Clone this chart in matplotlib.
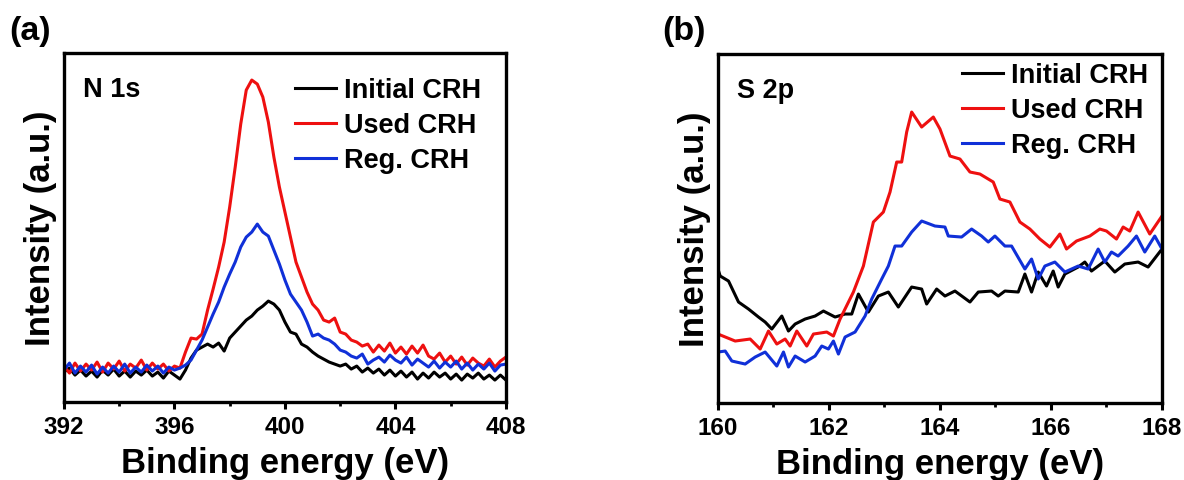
import matplotlib
matplotlib.use("Agg")
import matplotlib.pyplot as plt
from matplotlib.ticker import MultipleLocator

plt.rcParams['font.family'] = ['Liberation Sans', 'DejaVu Sans']
plt.rcParams['font.weight'] = 'bold'

labels = ["Initial CRH", "Used CRH", "Reg. CRH"]
colors = ["#000000", "#ee1010", "#1030d8"]

# N 1s spectra (a)
n1s_ev = [392.0, 392.2, 392.4, 392.6, 392.8, 393.0, 393.2, 393.4, 393.6, 393.8,
          394.0, 394.2, 394.4, 394.6, 394.8, 395.0, 395.2, 395.4, 395.6, 395.8,
          396.0, 396.2, 396.4, 396.6, 396.8, 397.0, 397.2, 397.4, 397.6, 397.8,
          398.0, 398.2, 398.4, 398.6, 398.8, 399.0, 399.2, 399.4, 399.6, 399.8,
          400.0, 400.2, 400.4, 400.6, 400.8, 401.0, 401.2, 401.4, 401.6, 401.8,
          402.0, 402.2, 402.4, 402.6, 402.8, 403.0, 403.2, 403.4, 403.6, 403.8,
          404.0, 404.2, 404.4, 404.6, 404.8, 405.0, 405.2, 405.4, 405.6, 405.8,
          406.0, 406.2, 406.4, 406.6, 406.8, 407.0, 407.2, 407.4, 407.6, 407.8,
          408.0]
n1s_initial = [30, 34, 27, 32, 26, 31, 25, 32, 27, 33,
               26, 31, 25, 31, 27, 32, 26, 30, 24, 31,
               27, 23, 32, 44, 52, 55, 58, 55, 59, 51,
               64, 70, 76, 82, 86, 92, 96, 101, 98, 92,
               80, 70, 68, 58, 55, 50, 46, 43, 40, 38,
               36, 38, 33, 36, 30, 34, 29, 33, 27, 32,
               26, 31, 25, 30, 23, 29, 24, 30, 25, 29,
               23, 28, 22, 28, 24, 29, 23, 27, 22, 27,
               22]
n1s_used = [36, 29, 39, 31, 38, 32, 40, 30, 39, 33,
            41, 31, 38, 34, 42, 32, 39, 33, 38, 31,
            36, 34, 50, 64, 63, 68, 92, 113, 135, 160,
            195, 235, 278, 312, 322, 318, 305, 280, 245, 215,
            190, 165, 140, 125, 110, 98, 92, 82, 80, 84,
            70, 68, 62, 60, 56, 58, 50, 57, 51, 59,
            49, 55, 48, 56, 49, 57, 46, 43, 49, 40,
            46, 38, 45, 37, 44, 39, 36, 43, 35, 41,
            45]
n1s_reg = [32, 39, 29, 36, 30, 37, 28, 35, 29, 36,
           30, 38, 29, 35, 30, 37, 31, 36, 29, 35,
           32, 34, 37, 42, 52, 62, 75, 88, 100, 115,
           128, 140, 155, 165, 170, 178, 170, 166, 152, 138,
           122, 108, 100, 92, 80, 66, 68, 64, 62, 58,
           52, 50, 46, 44, 48, 38, 42, 45, 40, 47,
           42, 39, 45, 37, 43, 39, 35, 41, 34, 40,
           35, 41, 33, 39, 32, 38, 33, 39, 31, 37,
           38]

# S 2p spectra (b)
s2p_initial_ev = [160.0, 160.04, 160.19, 160.37, 160.55, 160.73, 160.85, 160.97, 161.15, 161.27,
                  161.39, 161.57, 161.75, 161.9, 162.11, 162.29, 162.41, 162.53, 162.71, 162.89,
                  163.07, 163.25, 163.49, 163.67, 163.76, 163.94, 164.09, 164.27, 164.54, 164.69,
                  164.93, 165.05, 165.17, 165.41, 165.53, 165.65, 165.77, 165.92, 166.04, 166.13,
                  166.25, 166.49, 166.61, 166.73, 166.97, 167.15, 167.33, 167.57, 167.75, 168.0]
s2p_initial = [134, 127, 122, 101, 94, 86, 81, 74, 87, 72,
               79, 84, 87, 92, 86, 89, 89, 109, 91, 107,
               111, 96, 116, 114, 99, 114, 107, 112, 101, 111,
               112, 107, 112, 111, 129, 111, 131, 117, 132, 116,
               129, 136, 141, 132, 142, 131, 139, 141, 136, 154]
s2p_used_ev = [160.0, 160.31, 160.58, 160.76, 160.91, 161.06, 161.21, 161.3, 161.42, 161.6,
               161.72, 161.96, 162.08, 162.2, 162.44, 162.62, 162.8, 162.98, 163.1, 163.22,
               163.31, 163.4, 163.49, 163.67, 163.88, 164.0, 164.18, 164.36, 164.54, 164.72,
               164.96, 165.08, 165.26, 165.44, 165.62, 165.8, 165.98, 166.16, 166.28, 166.46,
               166.7, 166.88, 167.0, 167.18, 167.3, 167.42, 167.57, 167.78, 168.0]
s2p_used = [69, 62, 64, 54, 72, 59, 64, 57, 72, 57,
            69, 71, 67, 84, 111, 137, 181, 191, 211, 241,
            241, 271, 291, 276, 286, 274, 247, 244, 231, 229,
            221, 204, 201, 181, 174, 164, 156, 169, 154, 162,
            167, 174, 172, 164, 176, 172, 191, 169, 187]
s2p_reg_ev = [160.0, 160.13, 160.25, 160.49, 160.67, 160.85, 161.06, 161.18, 161.27, 161.39,
              161.57, 161.75, 161.87, 161.99, 162.08, 162.17, 162.29, 162.47, 162.65, 162.77,
              162.95, 163.07, 163.19, 163.31, 163.49, 163.67, 163.91, 164.09, 164.15, 164.39,
              164.57, 164.75, 164.87, 164.99, 165.17, 165.29, 165.53, 165.65, 165.77, 165.89,
              166.07, 166.25, 166.49, 166.67, 166.85, 166.97, 167.09, 167.21, 167.39, 167.54,
              167.69, 167.87, 168.0]
s2p_reg = [51, 52, 42, 39, 46, 51, 37, 51, 36, 47,
           41, 47, 57, 54, 62, 49, 66, 71, 87, 104,
           124, 137, 157, 157, 171, 182, 177, 176, 167, 166,
           174, 167, 161, 167, 157, 157, 134, 144, 124, 137,
           141, 131, 137, 134, 154, 141, 151, 147, 157, 167,
           151, 167, 154]

fig = plt.figure(figsize=(11.84, 4.81), dpi=100)
ax1 = fig.add_axes([0.054, 0.162, 0.3733, 0.7256])
ax2 = fig.add_axes([0.6064, 0.160, 0.375, 0.7256])

ax1.plot(n1s_ev, n1s_initial, color=colors[0], lw=2.2, label=labels[0])
ax1.plot(n1s_ev, n1s_used, color=colors[1], lw=2.2, label=labels[1])
ax1.plot(n1s_ev, n1s_reg, color=colors[2], lw=2.2, label=labels[2])

ax2.plot(s2p_initial_ev, s2p_initial, color=colors[0], lw=2.2, label=labels[0])
ax2.plot(s2p_used_ev, s2p_used, color=colors[1], lw=2.2, label=labels[1])
ax2.plot(s2p_reg_ev, s2p_reg, color=colors[2], lw=2.2, label=labels[2])

ax1.set_xlim(392, 408)
ax1.xaxis.set_major_locator(MultipleLocator(4))
ax1.xaxis.set_minor_locator(MultipleLocator(2))
ax2.set_xlim(160, 168)
ax2.xaxis.set_major_locator(MultipleLocator(2))
ax2.xaxis.set_minor_locator(MultipleLocator(1))

for ax, tag, leg_xy in [(ax1, "N 1s", (0.523, 0.931)), (ax2, "S 2p", (0.5495, 0.976))]:
    ax.set_ylim(0, 349)
    ax.set_yticks([])
    for s in ax.spines.values():
        s.set_linewidth(2.4)
    ax.tick_params(axis='x', which='major', direction='out', length=5, width=2.2,
                   labelsize=17.5, pad=4)
    ax.tick_params(axis='x', which='minor', direction='out', length=3, width=2)
    ax.set_xlabel("Binding energy (eV)", fontsize=25, fontweight='bold', labelpad=6)
    ax.set_ylabel("Intensity (a.u.)", fontsize=25, fontweight='bold', labelpad=5)
    ax.text(0.043, 0.877, tag, transform=ax.transAxes, fontsize=19.5,
            fontweight='bold', va='baseline', ha='left')
    ax.legend(loc='upper left', bbox_to_anchor=leg_xy, frameon=False, fontsize=19.5,
              handlelength=1.5, handletextpad=0.3, labelspacing=0.33,
              borderpad=0, borderaxespad=0)

fig.text(0.008, 0.917, "(a)", fontsize=24.5, fontweight='bold', va='baseline')
fig.text(0.559, 0.917, "(b)", fontsize=24.5, fontweight='bold', va='baseline')

fig.savefig("out.png", dpi=100)
